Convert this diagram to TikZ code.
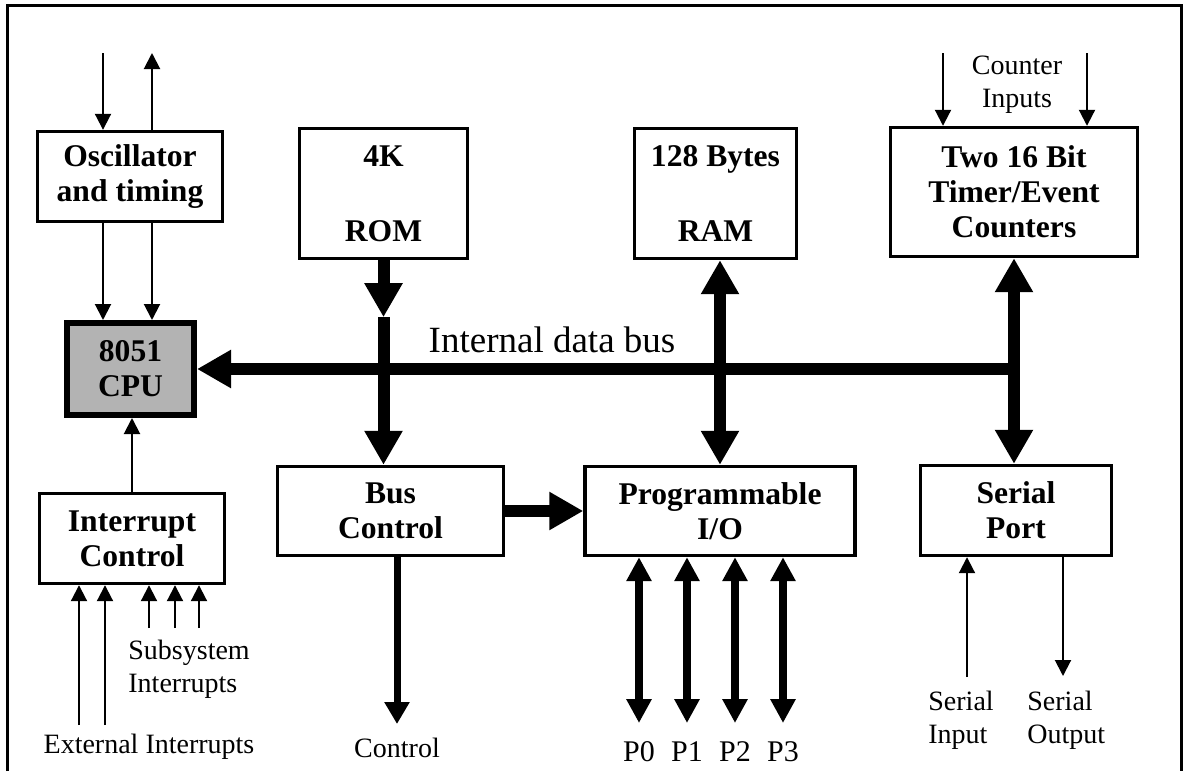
\documentclass[tikz,border=0pt]{standalone}
\usepackage{fontspec}
\setmainfont{Liberation Serif}
\usepackage{xcolor}
\definecolor{cpugray}{HTML}{B3B3B3}
\usepackage{tikz}
\usetikzlibrary{arrows.meta,positioning,calc}

\begin{document}
\begin{tikzpicture}[x=0.5pt, y=-0.5pt,
    block/.style={draw, line width=1.7pt, align=center, inner sep=0pt, font=\bfseries\fontsize{15.8}{17.5}\selectfont},
    note/.style={align=center, inner sep=0pt, font=\fontsize{14}{16.5}\selectfont},
    sig/.style={line width=1pt, -{Triangle[length=8pt,width=8pt]}},
    bus/.style={line width=6pt, -{Triangle[length=17pt,width=18pt]}},
    dbus/.style={line width=6pt, {Triangle[length=17pt,width=18pt]}-{Triangle[length=17pt,width=18pt]}},
    ctlline/.style={line width=3.5pt, -{Triangle[length=11pt,width=12pt]}},
    portline/.style={line width=4pt, {Triangle[length=12pt,width=12pt]}-{Triangle[length=12pt,width=12pt]}}]
    \useasboundingbox (0,0) rectangle (1183,771);
    % outer frame, open at the bottom
    \draw[line width=1.5pt] (7,771) -- (7,5) -- (1181,5) -- (1181,771);

    % blocks
    \node[block, minimum width=92.5pt, minimum height=45pt] (osc) at (130,176.5) {Oscillator\\and timing};
    \node[block, line width=3pt, fill=cpugray, minimum width=63.5pt, minimum height=46pt] (cpu) at (130.5,369) {8051\\CPU};
    \node[block, minimum width=92.5pt, minimum height=45pt] (intr) at (132,538.5) {Interrupt\\Control};
    \node[block, minimum width=84pt, minimum height=65pt] (rom) at (383.5,193.5) {4K\\[20pt]ROM};
    \node[block, minimum width=81pt, minimum height=65pt] (ram) at (715.5,193.5) {128 Bytes\\[20pt]RAM};
    \node[block, minimum width=123.5pt, minimum height=64.5pt] (timer) at (1014,192) {Two 16 Bit\\Timer/Event\\Counters};
    \node[block, minimum width=113pt, minimum height=44.5pt] (busctl) at (390.5,511) {Bus\\Control};
    \node[block, minimum width=135pt, minimum height=44.5pt] (pio) at (720,511) {Programmable\\I/O};
    \node[block, minimum width=95.5pt, minimum height=45pt] (serial) at (1016,510.5) {Serial\\Port};

    % oscillator
    \coordinate (oscin) at (103,53);
    \coordinate (oscout) at (152,53);
    \draw[sig] (oscin) -- (oscin |- osc.north);
    \draw[sig] (oscout |- osc.north) -- (oscout);
    \draw[sig] (oscin |- osc.south) -- (oscin |- cpu.north);
    \draw[sig] (oscout |- osc.south) -- (oscout |- cpu.north);

    % interrupts
    \draw[sig] (intr.north) -- (intr.north |- cpu.south);
    \foreach \x [count=\i] in {79,105} {
        \coordinate (ext\i) at (\x,725);
        \draw[sig] (ext\i) -- (ext\i |- intr.south);
    }
    \foreach \x [count=\i] in {149,175,199} {
        \coordinate (sub\i) at (\x,628);
        \draw[sig] (sub\i) -- (sub\i |- intr.south);
    }
    \node[note, align=left, anchor=west] (sublbl) at (128,669) {Subsystem\\Interrupts};
    \node[note] (extlbl) at (149,747) {External Interrupts};

    % internal data bus
    \coordinate (busend) at (timer.south |- cpu.east);
    \draw[bus, -{Triangle[length=17pt,width=18pt]}] (busend) -- (cpu.east);
    \node[inner sep=0pt, font=\fontsize{18.5}{20}\selectfont] (buslbl) at (552,340) {Internal data bus};
    \coordinate (rommid) at ($(rom.south)+(0,57)$);
    \draw[bus] (rom.south) -- (rommid);
    \draw[bus] (rommid) -- (rom.south |- busctl.north);
    \draw[dbus] (pio.north |- ram.south) -- (pio.north);
    \draw[dbus] (timer.south) -- (timer.south |- serial.north);
    \draw[bus] (busctl.east) -- (pio.west);

    % bus control output
    \coordinate (ctl) at (397,724);
    \draw[ctlline] (ctl |- busctl.south) -- (ctl);
    \node[note] (ctllbl) at (397,748) {Control};

    % ports
    \foreach \x/\p in {639/P0,687/P1,735/P2,783/P3} {
        \coordinate (port\p) at (\x,723);
        \draw[portline] (port\p |- pio.south) -- (port\p);
        \node[note, font=\fontsize{15}{17}\selectfont] (lbl\p) at (\x,752) {\p};
    }

    % counter inputs
    \coordinate (cnta) at (943,53);
    \coordinate (cntb) at (1087,53);
    \draw[sig] (cnta) -- (cnta |- timer.north);
    \draw[sig] (cntb) -- (cntb |- timer.north);
    \node[note] (cntlbl) at (1017,85) {Counter\\Inputs};

    % serial lines
    \coordinate (sin) at (967,677);
    \coordinate (sout) at (1063,676);
    \draw[sig] (sin) -- (sin |- serial.south);
    \draw[sig] (sout |- serial.south) -- (sout);
    \node[note, align=left, anchor=west] (sinlbl) at (928,720) {Serial\\Input};
    \node[note, align=left, anchor=west] (soutlbl) at (1027,720) {Serial\\Output};
\end{tikzpicture}
\end{document}
